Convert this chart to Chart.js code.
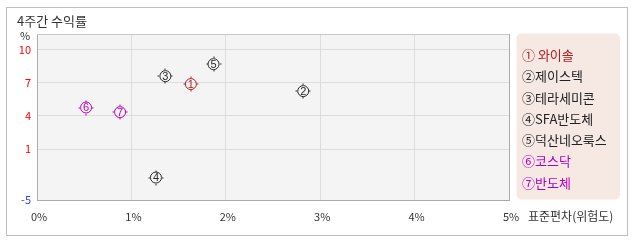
<!DOCTYPE html>
<html>
<head>
<meta charset="utf-8">
<script src="https://cdn.jsdelivr.net/npm/chart.js@4/dist/chart.umd.min.js"></script>
<style>
html,body{margin:0;padding:0;background:#fff;}
#wrap{width:638px;height:242px;position:relative;}
</style>
</head>
<body>
<div id="wrap"><canvas id="c" width="638" height="242"></canvas></div>
<script>
// ---- data ----
const names = ['와이솔', '제이스텍', '테라세미콘', 'SFA반도체', '덕산네오룩스', '코스닥', '반도체'];
const legendLabels = ['① 와이솔', '②제이스텍', '③테라세미콘', '④SFA반도체', '⑤덕산네오룩스', '⑥코스닥', '⑦반도체'];
const pointNumbers = ['1', '2', '3', '4', '5', '6', '7'];
const stdevPct = [1.63, 2.82, 1.36, 1.26, 1.87, 0.52, 0.88];   // x: 표준편차(위험도) %
const return4w = [6.9, 6.26, 7.62, -2.36, 8.71, 4.77, 4.35];    // y: 4주간 수익률 %
const xTickValues = [0, 1, 2, 3, 4, 5];
const yTickValues = [10, 7, 4, 1, -5];
const yTickLabels = ['10', '7', '4', '1', '-5'];
const titleText = '4주간 수익률';
const yUnitText = '%';
const xAxisTitle = '표준편차(위험도)';

// ---- styles ----
const pointColors = ['#b02020', '#2a2a2a', '#2a2a2a', '#2a2a2a', '#2a2a2a', '#b400c0', '#b400c0'];
const legendColors = ['#b02020', '#222222', '#222222', '#222222', '#222222', '#b400c0', '#b400c0'];
const FONT = '"Noto Sans CJK KR", "Noto Sans", sans-serif';

// piecewise-linear y scale (axis has uneven spacing below 1)
const Y_BREAKS = [[-5, 0], [1, 51 / 166], [11.45, 1]];
class BrokenLinearScale extends Chart.LinearScale {
  _toDec(v) {
    const b = Y_BREAKS;
    if (v <= b[0][0]) return b[0][1] + (v - b[0][0]) * (b[1][1] - b[0][1]) / (b[1][0] - b[0][0]);
    for (let i = 0; i < b.length - 1; i++) {
      if (v <= b[i + 1][0] || i === b.length - 2) {
        return b[i][1] + (v - b[i][0]) * (b[i + 1][1] - b[i][1]) / (b[i + 1][0] - b[i][0]);
      }
    }
  }
  _fromDec(d) {
    const b = Y_BREAKS;
    for (let i = 0; i < b.length - 1; i++) {
      if (d <= b[i + 1][1] || i === b.length - 2) {
        return b[i][0] + (d - b[i][1]) * (b[i + 1][0] - b[i][0]) / (b[i + 1][1] - b[i][1]);
      }
    }
  }
  getPixelForValue(value) {
    if (value === null || value === undefined || isNaN(value)) return NaN;
    return this.getPixelForDecimal(this._toDec(value));
  }
  getValueForPixel(pixel) {
    return this._fromDec(this.getDecimalForPixel(pixel));
  }
}
BrokenLinearScale.id = 'brokenLinear';
BrokenLinearScale.defaults = Chart.LinearScale.defaults;
Chart.register(BrokenLinearScale);

const datasets = names.map((nm, i) => ({
  label: nm,
  data: [{ x: stdevPct[i], y: return4w[i] }],
  pointStyle: 'circle',
  pointRadius: 5.5,
  pointHoverRadius: 5.5,
  pointBorderWidth: 1,
  pointBorderColor: pointColors[i],
  pointBackgroundColor: 'rgba(0,0,0,0)',
  showLine: false
}));

const markerDeco = {
  id: 'markerDeco',
  afterDatasetsDraw(chart) {
    const ctx = chart.ctx;
    ctx.save();
    chart.data.datasets.forEach((ds, i) => {
      const el = chart.getDatasetMeta(i).data[0];
      if (!el) return;
      const x = Math.round(el.x), y = Math.round(el.y);
      ctx.fillStyle = pointColors[i];
      ctx.fillRect(x - 0.5, y - 7.5, 1, 1.5);
      ctx.fillRect(x - 0.5, y + 6, 1, 1.5);
      ctx.fillRect(x - 7.5, y - 0.5, 1.5, 1);
      ctx.fillRect(x + 6, y - 0.5, 1.5, 1);
      ctx.font = '11px "Liberation Sans", sans-serif';
      ctx.textAlign = 'center';
      ctx.textBaseline = 'middle';
      ctx.fillText(pointNumbers[i], el.x, el.y + 0.5);
    });
    ctx.restore();
  }
};

const decor = {
  id: 'decor',
  beforeDraw(chart) {
    const ctx = chart.ctx, a = chart.chartArea;
    ctx.save();
    ctx.fillStyle = '#ffffff';
    ctx.fillRect(0, 0, chart.width, chart.height);
    ctx.strokeStyle = '#bdbdbd'; ctx.lineWidth = 1;
    ctx.strokeRect(6.5, 7.5, 621, 228);
    ctx.fillStyle = '#f4f4f4';
    ctx.fillRect(a.left, a.top, a.right - a.left, a.bottom - a.top);
    // legend box
    ctx.fillStyle = '#f6e9e3';
    ctx.beginPath();
    ctx.roundRect(516.5, 33.5, 103.5, 166, 5);
    ctx.fill();
    ctx.restore();
  },
  afterDraw(chart) {
    const ctx = chart.ctx, a = chart.chartArea;
    ctx.save();
    ctx.lineWidth = 1;
    ctx.strokeStyle = '#c8c8c8';
    ctx.beginPath(); ctx.moveTo(a.left, a.top + 0.5); ctx.lineTo(a.right, a.top + 0.5); ctx.stroke();
    ctx.strokeStyle = '#ababab';
    ctx.beginPath(); ctx.moveTo(a.right + 0.5, a.top); ctx.lineTo(a.right + 0.5, a.bottom); ctx.stroke();
    ctx.textBaseline = 'middle';
    ctx.textAlign = 'left';
    ctx.fillStyle = '#333333';
    ctx.font = '13px ' + FONT;
    ctx.fillText(titleText, 17, 21);
    ctx.font = '11px ' + FONT;
    ctx.textAlign = 'center';
    ctx.fillText(yUnitText, 25, 36);
    ctx.textAlign = 'left';
    ctx.font = '12px ' + FONT;
    ctx.fillText(xAxisTitle, 528, 216);
    // legend
    ctx.font = '13px ' + FONT;
    legendLabels.forEach((t, i) => {
      ctx.fillStyle = legendColors[i];
      ctx.fillText(t, 522, 55 + i * 21.3);
    });
    ctx.restore();
  }
};

new Chart(document.getElementById('c'), {
  type: 'scatter',
  data: { datasets },
  options: {
    responsive: false,
    animation: false,
    events: [],
    layout: { padding: { left: 0, right: 129, top: 34, bottom: 0 } },
    plugins: { legend: { display: false }, tooltip: { enabled: false }, title: { display: false } },
    scales: {
      x: {
        type: 'linear',
        min: 0, max: 5,
        afterBuildTicks: s => { s.ticks = xTickValues.map(v => ({ value: v })); },
        afterFit: s => { s.height = 42; },
        grid: {
          color: ctx => (ctx.tick && (ctx.tick.value === 0 || ctx.tick.value === 5)) ? 'rgba(0,0,0,0)' : '#dcdcdc',
          drawTicks: false
        },
        border: { color: '#ababab' },
        ticks: {
          padding: 10,
          labelOffset: 2,
          color: '#333333',
          font: { family: FONT, size: 11 },
          callback: v => v + '%'
        }
      },
      y: {
        type: 'brokenLinear',
        min: -5, max: 11.45,
        afterBuildTicks: s => { s.ticks = yTickValues.map(v => ({ value: v })); },
        afterFit: s => { s.width = 37; },
        grid: {
          color: ctx => (ctx.tick && ctx.tick.value === -5) ? 'rgba(0,0,0,0)' : '#dcdcdc',
          drawTicks: false
        },
        border: { color: '#ababab' },
        ticks: {
          padding: 6,
          color: ctx => (ctx.tick && ctx.tick.value < 0) ? '#3a3aff' : '#ff0000',
          font: { family: FONT, size: 11 },
          callback: (v) => { const k = yTickValues.indexOf(v); return k >= 0 ? yTickLabels[k] : ''; }
        }
      }
    }
  },
  plugins: [markerDeco, decor]
});
</script>
</body>
</html>
